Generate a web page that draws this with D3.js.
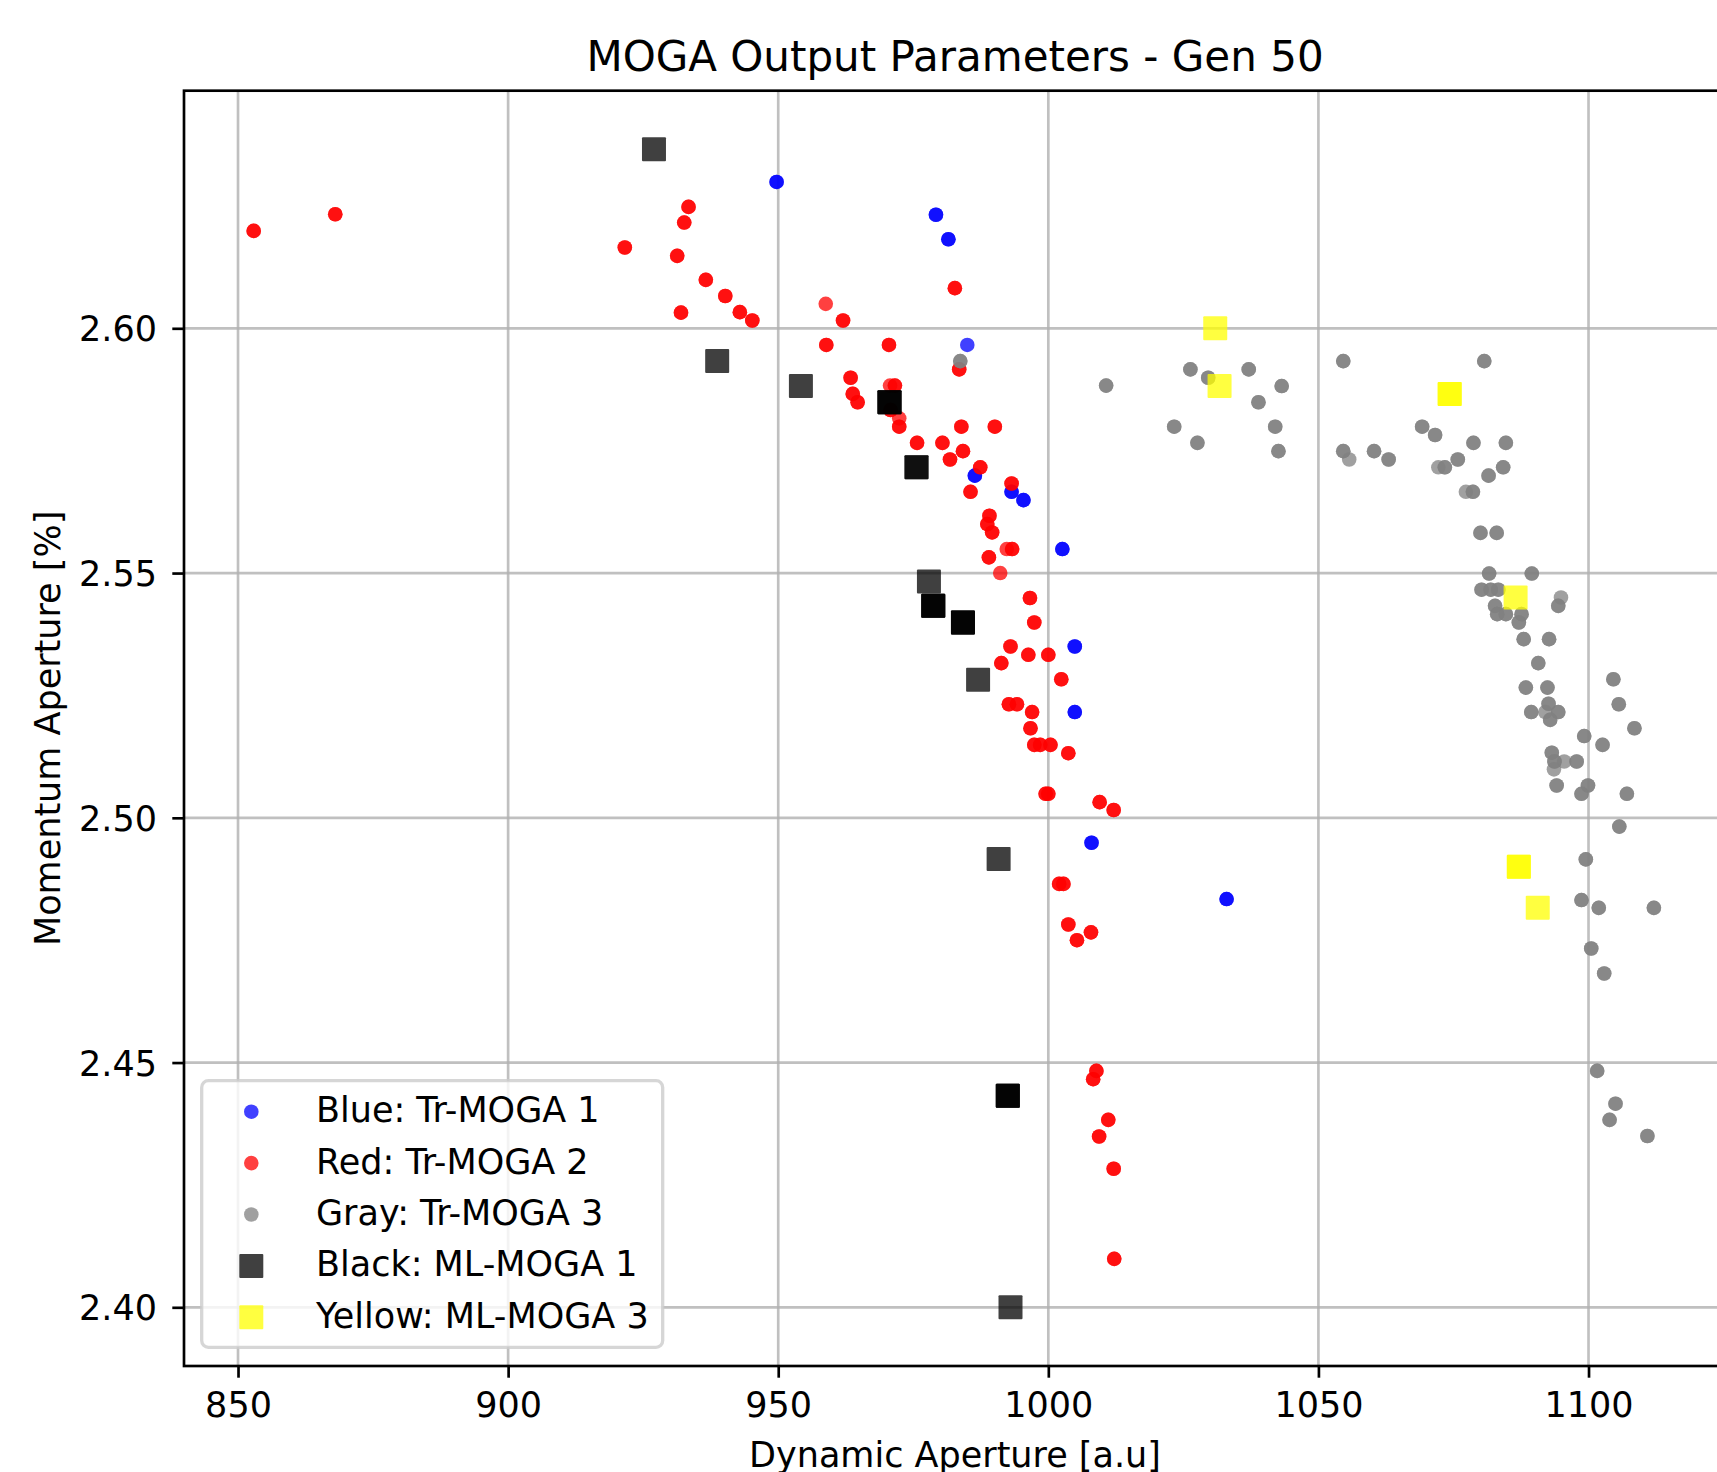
<!DOCTYPE html>
<html>
<head>
<meta charset="utf-8">
<script src="https://cdn.jsdelivr.net/npm/d3@7"></script>
<style>
  html, body { margin: 0; padding: 0; background: #ffffff; }
  svg { display: block; font-family: "DejaVu Sans", sans-serif; }
</style>
</head>
<body>
<svg id="chart" width="1717" height="1472"></svg>
<script>
// ---------------- data ([x, y, multiplicity]) ----------------
const blueTrMoga1 = [
  [949.7, 2.6299, 2], [979.2, 2.6232, 2], [981.5, 2.6182, 2], [985.0, 2.5966, 1],
  [986.4, 2.5699, 2], [993.2, 2.5666, 2], [995.4, 2.5649, 2], [1002.6, 2.5549, 2],
  [1004.9, 2.5350, 2], [1004.9, 2.5216, 2], [1008.0, 2.4949, 2], [1033.0, 2.4834, 2]
];
const redTrMoga2 = [
  [852.9, 2.6199, 2], [868.0, 2.6233, 2], [933.4, 2.6248, 2], [932.6, 2.6216, 2],
  [921.6, 2.6165, 2], [931.3, 2.6148, 2], [936.6, 2.6099, 2], [940.2, 2.6066, 2],
  [942.9, 2.6033, 2], [945.2, 2.6016, 2], [932.0, 2.6032, 2], [958.8, 2.6050, 1],
  [962.0, 2.6016, 2], [982.7, 2.6082, 2], [958.9, 2.5966, 2], [970.5, 2.5966, 2],
  [983.5, 2.5916, 2], [963.4, 2.5899, 2], [963.8, 2.5866, 2], [964.7, 2.5849, 2],
  [971.6, 2.5883, 2], [970.7, 2.5883, 1], [972.4, 2.5816, 1], [970.8, 2.5833, 2],
  [972.4, 2.5799, 2], [975.7, 2.5766, 2], [980.4, 2.5766, 2], [983.9, 2.5799, 2],
  [990.1, 2.5799, 2], [984.2, 2.5749, 2], [981.8, 2.5732, 2], [987.4, 2.5716, 2],
  [985.6, 2.5666, 2], [993.2, 2.5683, 2], [989.1, 2.5617, 2], [988.7, 2.5600, 2],
  [989.6, 2.5583, 2], [993.3, 2.5549, 2], [992.3, 2.5549, 1], [989.0, 2.5532, 2],
  [991.1, 2.5500, 1], [996.6, 2.5449, 2], [997.4, 2.5399, 2], [993.0, 2.5350, 2],
  [996.3, 2.5333, 2], [1000.0, 2.5333, 2], [991.3, 2.5316, 2], [1002.4, 2.5283, 2],
  [992.7, 2.5232, 2], [994.2, 2.5232, 2], [997.0, 2.5216, 2], [996.7, 2.5183, 2],
  [997.4, 2.5149, 2], [998.5, 2.5149, 2], [1000.4, 2.5149, 2], [1003.7, 2.5132, 2],
  [999.5, 2.5049, 2], [1000.0, 2.5049, 2], [1009.5, 2.5032, 2], [1012.1, 2.5016, 2],
  [1002.0, 2.4865, 2], [1002.8, 2.4865, 2], [1003.7, 2.4782, 2], [1007.9, 2.4766, 2],
  [1005.3, 2.4750, 2], [1008.9, 2.4483, 2], [1008.3, 2.4466, 2], [1011.1, 2.4383, 2],
  [1009.4, 2.4349, 2], [1012.1, 2.4283, 2], [1012.2, 2.4099, 2]
];
const grayTrMoga3 = [
  [1010.7, 2.5883, 2], [983.7, 2.5933, 2], [1026.3, 2.5916, 2], [1029.6, 2.5899, 2],
  [1037.1, 2.5916, 2], [1043.2, 2.5882, 2], [1038.9, 2.5849, 2], [1023.3, 2.5799, 2],
  [1042.0, 2.5799, 2], [1027.6, 2.5766, 2], [1042.6, 2.5749, 2], [1054.6, 2.5933, 2],
  [1080.7, 2.5933, 2], [1069.2, 2.5799, 2], [1071.6, 2.5782, 2], [1078.7, 2.5766, 2],
  [1084.7, 2.5766, 2], [1054.6, 2.5749, 2], [1055.7, 2.5732, 1], [1060.3, 2.5749, 2],
  [1063.0, 2.5732, 2], [1072.2, 2.5716, 1], [1073.4, 2.5716, 2], [1075.8, 2.5732, 2],
  [1084.2, 2.5716, 2], [1081.5, 2.5699, 2], [1077.3, 2.5666, 1], [1078.6, 2.5666, 2],
  [1080.0, 2.5582, 2], [1083.0, 2.5582, 2], [1081.6, 2.5499, 2], [1089.5, 2.5499, 2],
  [1080.2, 2.5466, 2], [1081.9, 2.5466, 2], [1083.3, 2.5466, 2], [1094.9, 2.5450, 1],
  [1094.4, 2.5433, 2], [1082.7, 2.5433, 2], [1083.1, 2.5416, 2], [1084.7, 2.5416, 2],
  [1087.6, 2.5416, 2], [1087.1, 2.5399, 2], [1088.0, 2.5365, 2], [1092.7, 2.5365, 2],
  [1090.7, 2.5316, 2], [1104.6, 2.5283, 2], [1088.4, 2.5266, 2], [1092.4, 2.5266, 2],
  [1105.6, 2.5232, 2], [1092.6, 2.5233, 2], [1089.4, 2.5216, 2], [1092.0, 2.5216, 1],
  [1094.4, 2.5216, 2], [1092.9, 2.5200, 2], [1108.5, 2.5183, 2], [1099.2, 2.5167, 2],
  [1102.6, 2.5149, 2], [1093.2, 2.5133, 2], [1093.7, 2.5115, 2], [1095.5, 2.5115, 1],
  [1097.8, 2.5115, 2], [1093.6, 2.5099, 1], [1094.1, 2.5066, 2], [1099.9, 2.5066, 2],
  [1098.7, 2.5049, 2], [1107.1, 2.5049, 2], [1105.7, 2.4982, 2], [1099.5, 2.4915, 2],
  [1098.7, 2.4832, 2], [1101.9, 2.4816, 2], [1112.1, 2.4816, 2], [1100.5, 2.4733, 2],
  [1102.9, 2.4682, 2], [1101.6, 2.4483, 2], [1105.0, 2.4416, 2], [1103.9, 2.4383, 2],
  [1110.9, 2.4350, 2]
];
const blackMlMoga1 = [
  [927.0, 2.6366, 1], [938.7, 2.5933, 1], [954.2, 2.5882, 1], [970.6, 2.5849, 3],
  [975.6, 2.5716, 2], [977.9, 2.5483, 1], [978.7, 2.5433, 3], [984.2, 2.5399, 3],
  [987.0, 2.5282, 1], [990.8, 2.4916, 1], [992.5, 2.4432, 3], [993.0, 2.4000, 1]
];
const yellowMlMoga3 = [
  [1030.9, 2.6000, 1], [1031.7, 2.5882, 1], [1074.3, 2.5866, 2],
  [1086.5, 2.5450, 1], [1087.1, 2.4900, 2], [1090.6, 2.4816, 1]
];

const xTicks = [850, 900, 950, 1000, 1050, 1100];
const yTicks = [2.40, 2.45, 2.50, 2.55, 2.60];
const seriesNames = ["Blue: Tr-MOGA 1", "Red: Tr-MOGA 2", "Gray: Tr-MOGA 3", "Black: ML-MOGA 1", "Yellow: ML-MOGA 3"];
const seriesColors = ["#0000ff", "#ff0000", "#808080", "#000000", "#ffff00"];
const seriesShapes = ["circle", "circle", "circle", "square", "square"];
const seriesData = [blueTrMoga1, redTrMoga2, grayTrMoga3, blackMlMoga1, yellowMlMoga3];

const titleText = "MOGA Output Parameters - Gen 50";
const xLabel = "Dynamic Aperture [a.u]";
const yLabel = "Momentum Aperture [%]";

// ---------------- layout ----------------
const L = 184, T = 90.7, R = 1726, B = 1366;
const FS = 35, FS_TITLE = 42;
const svg = d3.select("#chart");
svg.append("rect").attr("width", 1717).attr("height", 1472).attr("fill", "#fff");

const x = d3.scaleLinear().domain([840.0, 1125.45]).range([L, R]);
const y = d3.scaleLinear().domain([2.38801, 2.64854]).range([B, T]);

svg.append("defs").append("clipPath").attr("id", "plotclip")
  .append("rect").attr("x", L).attr("y", T).attr("width", R - L).attr("height", B - T);

// grid
const grid = svg.append("g").attr("stroke", "#b0b0b0").attr("stroke-opacity", 0.8).attr("stroke-width", 2.67);
grid.selectAll(".vg").data(xTicks).join("line")
  .attr("x1", d => x(d)).attr("x2", d => x(d)).attr("y1", T).attr("y2", B);
grid.selectAll(".hg").data(yTicks).join("line")
  .attr("x1", L).attr("x2", R).attr("y1", d => y(d)).attr("y2", d => y(d));

// points
const plot = svg.append("g").attr("clip-path", "url(#plotclip)");
const R_CIRC = 7.3, SQ = 24;
seriesData.forEach((data, i) => {
  const expanded = d3.merge(data.map(p => d3.range(p[2]).map(() => p)));
  const g = plot.append("g").attr("fill", seriesColors[i]).attr("fill-opacity", 0.75);
  if (seriesShapes[i] === "circle") {
    g.selectAll("circle").data(expanded).join("circle")
      .attr("cx", d => x(d[0])).attr("cy", d => y(d[1])).attr("r", R_CIRC);
  } else {
    g.selectAll("rect").data(expanded).join("rect")
      .attr("x", d => x(d[0]) - SQ / 2).attr("y", d => y(d[1]) - SQ / 2)
      .attr("width", SQ).attr("height", SQ).attr("rx", 1);
  }
});

// axes
const xAxis = d3.axisBottom(x).tickValues(xTicks).tickSize(11.7).tickSizeOuter(0).tickFormat(d3.format("d"));
const gx = svg.append("g").attr("transform", `translate(0,${B})`).call(xAxis);
gx.select(".domain").remove();
gx.selectAll(".tick line").attr("stroke", "#000").attr("stroke-width", 2.67);
gx.selectAll(".tick text").attr("y", 51).attr("dy", null)
  .attr("font-size", FS).attr("font-family", "DejaVu Sans").attr("fill", "#000");

const yAxis = d3.axisLeft(y).tickValues(yTicks).tickSize(11.7).tickSizeOuter(0).tickFormat(d3.format(".2f"));
const gy = svg.append("g").attr("transform", `translate(${L},0)`).call(yAxis);
gy.select(".domain").remove();
gy.selectAll(".tick line").attr("stroke", "#000").attr("stroke-width", 2.67);
gy.selectAll(".tick text").attr("x", -27).attr("dy", 12.5)
  .attr("font-size", FS).attr("font-family", "DejaVu Sans").attr("fill", "#000");

// frame
svg.append("rect").attr("x", L).attr("y", T).attr("width", R - L).attr("height", B - T)
  .attr("fill", "none").attr("stroke", "#000").attr("stroke-width", 2.67);

// title & labels
svg.append("text").attr("x", (L + R) / 2).attr("y", 70.7).attr("text-anchor", "middle")
  .attr("font-size", FS_TITLE).attr("fill", "#000").text(titleText);
svg.append("text").attr("x", (L + R) / 2).attr("y", 1466.5).attr("text-anchor", "middle")
  .attr("font-size", FS).attr("fill", "#000").text(xLabel);
svg.append("text").attr("transform", `translate(60,${(T + B) / 2}) rotate(-90)`).attr("text-anchor", "middle")
  .attr("font-size", FS).attr("fill", "#000").text(yLabel);

// legend
const lg = svg.append("g");
lg.append("rect").attr("x", 201.7).attr("y", 1080.7).attr("width", 461).attr("height", 266.6)
  .attr("rx", 6.7).attr("fill", "#fff").attr("fill-opacity", 0.8)
  .attr("stroke", "#cccccc").attr("stroke-opacity", 0.8).attr("stroke-width", 3.3);
const legY0 = 1111.7, legDY = 51.4;
seriesNames.forEach((name, i) => {
  const cy = legY0 + i * legDY;
  if (seriesShapes[i] === "circle") {
    lg.append("circle").attr("cx", 251.3).attr("cy", cy).attr("r", R_CIRC)
      .attr("fill", seriesColors[i]).attr("fill-opacity", 0.75);
  } else {
    lg.append("rect").attr("x", 251.3 - SQ / 2).attr("y", cy - SQ / 2).attr("width", SQ).attr("height", SQ)
      .attr("rx", 1).attr("fill", seriesColors[i]).attr("fill-opacity", 0.75);
  }
  lg.append("text").attr("x", 316).attr("y", cy + 10.5).attr("font-size", FS).attr("fill", "#000").text(name);
});
</script>
</body>
</html>
